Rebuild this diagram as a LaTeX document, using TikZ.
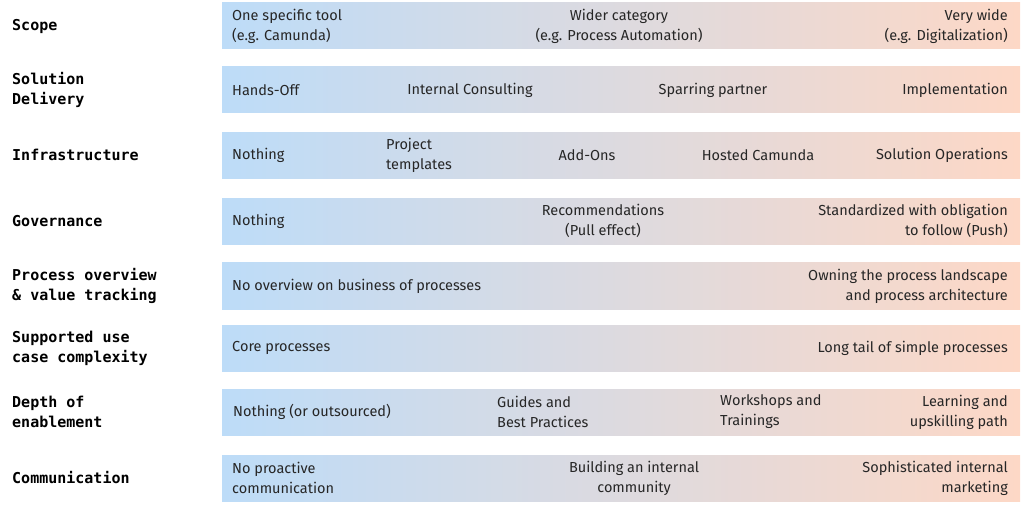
\documentclass[tikz,border=0pt]{standalone}
\usepackage{fontspec}
\setmainfont{Fira Sans}
\newfontfamily\labfont{DejaVu Sans Mono}
\definecolor{lb}{HTML}{BDDCF8}
\definecolor{pk}{HTML}{FDD8C6}
\begin{document}
\begin{tikzpicture}[x=1pt,y=-1pt,
  bar/.style={left color=lb,right color=pk,draw=none},
  lab/.style={anchor=west,align=left,font=\labfont\bfseries\fontsize{15}{20}\selectfont,inner sep=0},
  tx/.style={align=center,font=\fontsize{14.5}{20}\selectfont,inner sep=0,text=black!85},
  txl/.style={tx,anchor=west,align=left},
  txr/.style={tx,anchor=east,align=right}]
\useasboundingbox (0,0) rectangle (1024,508);
\foreach \n/\a/\b in {b1/3/49,b2/67/113,b3/132/178,b4/198/244,b5/262/309,b6/325/371,b7/389/435,b8/455/501}
  \path[bar] (222,\a) rectangle (1020,\b);
% labels
\node[lab] (l1) at (12,26) {Scope};
\node[lab] (l2) at (12,90) {Solution\\Delivery};
\node[lab] (l3) at (12,155) {Infrastructure};
\node[lab] (l4) at (12,221) {Governance};
\node[lab] (l5) at (12,286) {Process overview\\\& value tracking};
\node[lab] (l6) at (12,348) {Supported use\\case complexity};
\node[lab] (l7) at (12,412) {Depth of\\enablement};
\node[lab] (l8) at (12,478) {Communication};
% row 1
\node[txl] (a1) at (232,26) {One specific tool\\(e.g. Camunda)};
\node[tx] (a2) at (619,26) {Wider category\\(e.g. Process Automation)};
\node[txr] (a3) at (1008,26) {Very wide\\(e.g. Digitalization)};
% row 2
\node[txl] (b1) at (232,90) {Hands-Off};
\node[tx] (b2) at (470,90) {Internal Consulting};
\node[tx] (b3) at (713,90) {Sparring partner};
\node[txr] (b4) at (1008,90) {Implementation};
% row 3
\node[txl] (c1) at (232,155) {Nothing};
\node[txl] (c2) at (386,155) {Project\\templates};
\node[tx] (c3) at (587,155) {Add-Ons};
\node[tx] (c4) at (758,155) {Hosted Camunda};
\node[txr] (c5) at (1008,155) {Solution Operations};
% row 4
\node[txl] (d1) at (232,221) {Nothing};
\node[tx] (d2) at (603,221) {Recommendations\\(Pull effect)};
\node[txr] (d3) at (1008,221) {Standardized with obligation\\to follow (Push)};
% row 5
\node[txl] (e1) at (232,286) {No overview on business of processes};
\node[txr] (e2) at (1008,286) {Owning the process landscape\\and process architecture};
% row 6
\node[txl] (f1) at (232,348) {Core processes};
\node[txr] (f2) at (1008,348) {Long tail of simple processes};
% row 7
\node[txl] (g1) at (233,412) {Nothing (or outsourced)};
\node[txl] (g2) at (497,412) {Guides and\\Best Practices};
\node[txl] (g3) at (720,412) {Workshops and\\Trainings};
\node[txr] (g4) at (1008,412) {Learning and\\upskilling path};
% row 8
\node[txl] (h1) at (232,478) {No proactive\\communication};
\node[tx] (h2) at (634,478) {Building an internal\\community};
\node[txr] (h3) at (1008,478) {Sophisticated internal\\marketing};
\end{tikzpicture}
\end{document}
